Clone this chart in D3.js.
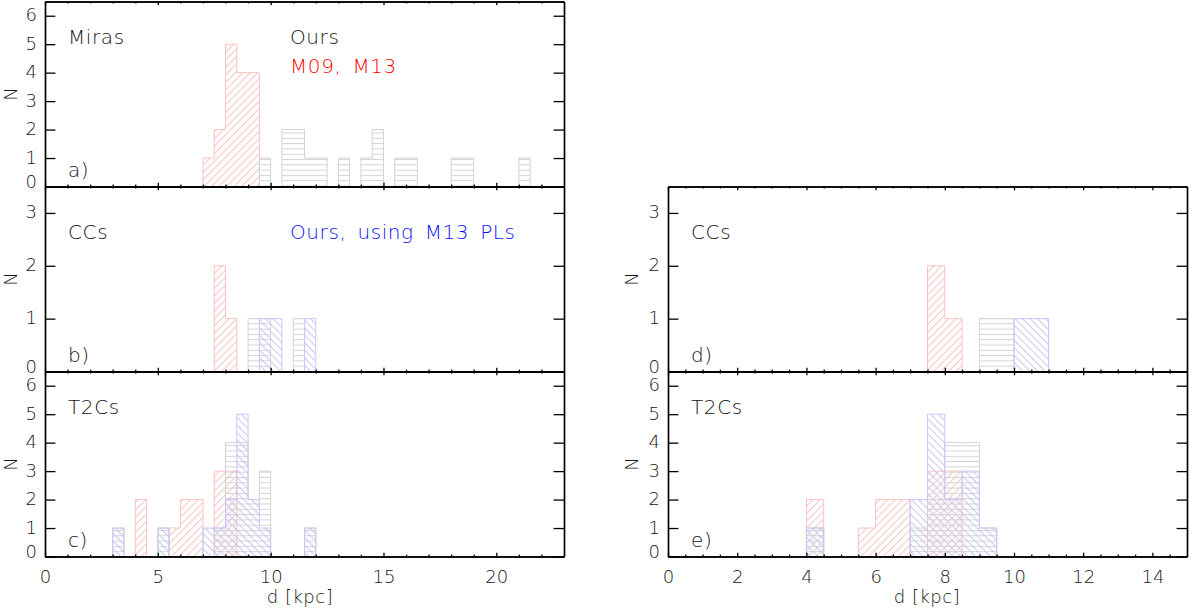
<!DOCTYPE html>
<html>
<head>
<meta charset="utf-8">
<script src="https://cdnjs.cloudflare.com/ajax/libs/d3/7.8.5/d3.min.js"></script>
<style>
body { margin: 0; background: #fff; }
svg text { font-family: 'DejaVu Sans', sans-serif; font-weight: 200; fill: #151515; }
</style>
</head>
<body>
<div id="main"></div>
<script>
// histogram bins: [left edge (kpc), N], all bins 0.5 kpc wide
var binWidth = 0.5;

var mirasM0913 = [[7.0, 1], [7.5, 2], [8.0, 5], [8.5, 4], [9.0, 4]];
var mirasOurs = [[9.5, 1], [10.5, 2], [11.0, 2], [11.5, 1], [12.0, 1], [13.0, 1], [14.0, 1],
                 [14.5, 2], [15.5, 1], [16.0, 1], [18.0, 1], [18.5, 1], [21.0, 1]];

var ccsM0913 = [[7.5, 2], [8.0, 1]];
var ccsOursB = [[9.0, 1], [9.5, 1], [11.0, 1]];
var ccsOursM13B = [[9.5, 1], [10.0, 1], [11.5, 1]];
var ccsOursD = [[9.0, 1], [9.5, 1]];
var ccsOursM13D = [[10.0, 1], [10.5, 1]];

var t2cM0913 = [[4.0, 2], [5.5, 1], [6.0, 2], [6.5, 2], [7.5, 3], [8.0, 3]];
var t2cOursC = [[3.0, 1], [5.0, 1], [7.5, 1], [8.0, 4], [8.5, 4], [9.0, 2], [9.5, 3], [11.5, 1]];
var t2cOursM13C = [[3.0, 1], [5.0, 1], [7.0, 1], [7.5, 1], [8.0, 2], [8.5, 5], [9.0, 2], [9.5, 1], [11.5, 1]];
var t2cOursE = [[4.0, 1], [7.0, 1], [7.5, 2], [8.0, 4], [8.5, 4], [9.0, 1]];
var t2cOursM13E = [[4.0, 1], [7.0, 2], [7.5, 5], [8.0, 2], [8.5, 3], [9.0, 1]];

// ticks
var leftMajor = [0, 5, 10, 15, 20];
var leftMinor = d3.range(1, 23, 1).filter(function(v) { return v % 5 !== 0; });
var rightMajor = [0, 2, 4, 6, 8, 10, 12, 14];
var rightMinor = d3.range(0.5, 15, 0.5).filter(function(v) { return v % 2 !== 0; });
var tallTicks = [0, 1, 2, 3, 4, 5, 6];
var shortTicks = [0, 1, 2, 3];

var colours = { ours: '#d3d3d3', m09: '#f9c2c2', m13: '#c6c6f8' };

var cols = {
    L: { x0: 45, x1: 564, domain: [0, 23], major: leftMajor, minor: leftMinor, nX: 16.5, labelX: 300 },
    R: { x0: 668, x1: 1187, domain: [0, 15], major: rightMajor, minor: rightMinor, nX: 637.5, labelX: 927 }
};
var rows = [1.5, 186.5, 371.5, 556.5];

var panels = [
    { col: 'L', row: 0, ymax: 6.5, yTicks: tallTicks, name: 'Miras', tag: 'a)', nameAt: 5,
      series: [[mirasM0913, 'm09'], [mirasOurs, 'ours']] },
    { col: 'L', row: 1, ymax: 3.5, yTicks: shortTicks, name: 'CCs', tag: 'b)', nameAt: 2.5,
      series: [[ccsM0913, 'm09'], [ccsOursB, 'ours'], [ccsOursM13B, 'm13']] },
    { col: 'L', row: 2, ymax: 6.5, yTicks: tallTicks, name: 'T2Cs', tag: 'c)', nameAt: 5, xLabels: true,
      series: [[t2cM0913, 'm09'], [t2cOursC, 'ours'], [t2cOursM13C, 'm13']] },
    { col: 'R', row: 1, ymax: 3.5, yTicks: shortTicks, name: 'CCs', tag: 'd)', nameAt: 2.5,
      series: [[ccsM0913, 'm09'], [ccsOursD, 'ours'], [ccsOursM13D, 'm13']] },
    { col: 'R', row: 2, ymax: 6.5, yTicks: tallTicks, name: 'T2Cs', tag: 'e)', nameAt: 5, xLabels: true,
      series: [[t2cM0913, 'm09'], [t2cOursE, 'ours'], [t2cOursM13E, 'm13']] }
];

var svg = d3.select('#main').append('svg')
    .attr('width', 1200)
    .attr('height', 610);

var defs = svg.append('defs');
var hatchGap = 5.3;
var addHatch = function(id, colour, angle) {
    var pat = defs.append('pattern')
        .attr('id', id)
        .attr('patternUnits', 'userSpaceOnUse')
        .attr('width', 20).attr('height', hatchGap)
        .attr('patternTransform', 'rotate(' + angle + ')');
    pat.append('line')
        .attr('x1', 0).attr('x2', 20)
        .attr('y1', 0.5).attr('y2', 0.5)
        .attr('stroke', colour)
        .attr('stroke-width', 1);
};
addHatch('hatch-ours', colours.ours, 0);
addHatch('hatch-m09', colours.m09, -45);
addHatch('hatch-m13', colours.m13, 45);

// turn bins into closed step outlines, one per run of touching bins
var stepRuns = function(bins) {
    var runs = [], cur = null, lastEnd = null;
    bins.forEach(function(b) {
        if (cur === null || Math.abs(b[0] - lastEnd) > 1e-6) {
            if (cur) { cur.push([lastEnd, 0]); runs.push(cur); }
            cur = [[b[0], 0]];
        }
        cur.push([b[0], b[1]]);
        cur.push([b[0] + binWidth, b[1]]);
        lastEnd = b[0] + binWidth;
    });
    if (cur) { cur.push([lastEnd, 0]); runs.push(cur); }
    return runs;
};

var drawPanel = function(p) {
    var c = cols[p.col];
    var top = rows[p.row], bottom = rows[p.row + 1];
    var x = d3.scaleLinear().domain(c.domain).range([c.x0, c.x1]);
    var y = d3.scaleLinear().domain([0, p.ymax]).range([bottom, top]);
    var g = svg.append('g').attr('class', 'panel');

    var line = d3.line()
        .x(function(d) { return x(d[0]); })
        .y(function(d) { return y(d[1]); });

    p.series.forEach(function(s) {
        g.selectAll(null).data(stepRuns(s[0]))
            .enter().append('path')
            .attr('d', function(d) { return line(d) + 'Z'; })
            .attr('fill', 'url(#hatch-' + s[1] + ')')
            .attr('stroke', colours[s[1]])
            .attr('stroke-width', 1);
    });

    var styleAxis = function(sel) {
        sel.select('.domain').attr('stroke-width', 1.7);
        sel.selectAll('.tick line').attr('stroke-width', 1.3);
        sel.selectAll('text').style('font-size', '18px').attr('dy', null);
    };

    g.append('g').attr('transform', 'translate(0,' + bottom + ')')
        .call(d3.axisBottom(x).tickValues(c.minor).tickSizeInner(-1.9).tickSizeOuter(0).tickFormat(''))
        .call(styleAxis);
    g.append('g').attr('transform', 'translate(0,' + bottom + ')')
        .call(d3.axisBottom(x).tickValues(c.major).tickSizeInner(-3.8).tickSizeOuter(0)
            .tickPadding(26.5).tickFormat(p.xLabels ? d3.format('d') : ''))
        .call(styleAxis);
    g.append('g').attr('transform', 'translate(0,' + top + ')')
        .call(d3.axisTop(x).tickValues(c.minor).tickSizeInner(-1.9).tickSizeOuter(0).tickFormat(''))
        .call(styleAxis);
    g.append('g').attr('transform', 'translate(0,' + top + ')')
        .call(d3.axisTop(x).tickValues(c.major).tickSizeInner(-3.8).tickSizeOuter(0).tickFormat(''))
        .call(styleAxis);
    // the zero label sits a little above its tick, as in the original
    g.append('g').attr('transform', 'translate(' + c.x0 + ',0)')
        .call(d3.axisLeft(y).tickValues(p.yTicks).tickSizeInner(-10.4).tickSizeOuter(0)
            .tickPadding(8).tickFormat(d3.format('d')))
        .call(styleAxis)
        .selectAll('text')
            .attr('dy', '0.28em')
            .attr('y', function(d) { return d === 0 ? -4 : 0; });
    g.append('g').attr('transform', 'translate(' + c.x1 + ',0)')
        .call(d3.axisRight(y).tickValues(p.yTicks).tickSizeInner(-10.4).tickSizeOuter(0).tickFormat(''))
        .call(styleAxis);

    var label = function(tx, ty, str, fill) {
        return g.append('text')
            .attr('x', tx).attr('y', ty)
            .style('font-size', '20px')
            .style('letter-spacing', '0.6px')
            .style('word-spacing', '4px')
            .style('fill', fill || '#151515')
            .text(str);
    };
    label(c.x0 + 23, y(p.nameAt), p.name);
    label(c.x0 + 23, bottom - 9.5, p.tag);

    g.append('text')
        .attr('transform', 'translate(' + c.nX + ',' + ((top + bottom) / 2) + ') rotate(-90)')
        .style('font-size', '18px')
        .style('text-anchor', 'middle')
        .text('N');

    if (p.xLabels) {
        g.append('text')
            .attr('x', c.labelX).attr('y', bottom + 46)
            .style('font-size', '18px')
            .style('letter-spacing', '0.5px')
            .style('text-anchor', 'middle')
            .text('d [kpc]');
    }

    if (p.tag === 'a)') {
        label(290, y(5), 'Ours');
        label(290, y(4), 'M09, M13', '#ff0000');
    }
    if (p.tag === 'b)') {
        label(290, y(2.5), 'Ours, using M13 PLs', '#1010ff');
    }
};

panels.forEach(drawPanel);
</script>
</body>
</html>
